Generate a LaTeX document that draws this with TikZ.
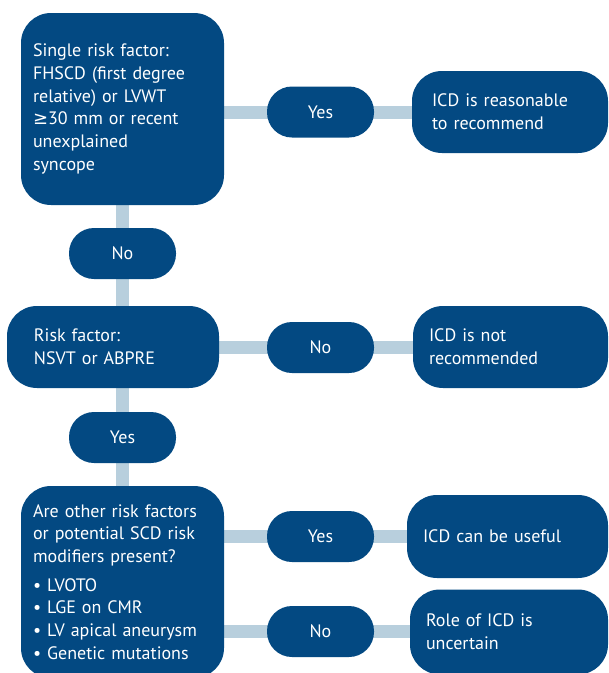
\documentclass[tikz,border=0pt]{standalone}
\usepackage{fontspec}
\setmainfont{PT Sans}
\newfontfamily\symfnt{DejaVu Sans}
\usetikzlibrary{backgrounds}
\definecolor{boxblue}{RGB}{3,73,130}
\definecolor{linkblue}{RGB}{184,207,221}

\begin{document}
\begin{tikzpicture}[x=1pt,y=-1pt,
    box/.style={fill=boxblue,text=white,rounded corners=30pt,align=left,font=\fontsize{18}{22.7}\selectfont},
    pill/.style={fill=boxblue,text=white,rounded corners=25pt,minimum width=107pt,minimum height=51pt,font=\fontsize{18}{22.7}\selectfont},
    link/.style={linkblue,line width=13pt}]
    \useasboundingbox (0,0) rectangle (609,673);

    % questions on the left
    \node[box,inner xsep=12pt,text width=179pt,minimum height=192pt] (q1) at (122.5,109)
        {Single risk factor:\\FHSCD (first degree\\relative) or LVWT\\{\symfnt ≥}30 mm or recent\\unexplained\\syncope};
    \node[pill] (no1) at (122.5,253.5) {No};
    \node[box,inner xsep=27pt,text width=158pt,minimum height=82pt] (q2) at (113,347)
        {Risk factor:\\NSVT or ABPRE};
    \node[pill] (yes2) at (122.5,437.5) {Yes};
    \node[box,inner xsep=12pt,text width=179pt,minimum height=192pt] (q3) at (122.5,582)
        {Are other risk factors\\or potential SCD risk\\modifiers present?\\[6pt]
         • LVOTO\\• LGE on CMR\\• LV apical aneurysm\\• Genetic mutations};

    % answers
    \node[pill] (yes1) at (320.5,112) {Yes};
    \node[pill] (no2) at (320.5,347.5) {No};
    \node[pill] (yes3) at (320.5,536.5) {Yes};
    \node[pill] (no3) at (320.5,631.5) {No};

    % recommendations on the right
    \node[box,inner xsep=20pt,text width=156pt,minimum height=82pt] (r1) at (510,112)
        {ICD is reasonable\\to recommend};
    \node[box,inner xsep=16pt,text width=163pt,minimum height=82pt] (r2) at (510.5,347)
        {ICD is not\\recommended};
    \node[box,inner xsep=16pt,text width=169pt,minimum height=83pt] (r3) at (507.5,536.5)
        {ICD can be useful};
    \node[box,inner xsep=16pt,text width=166pt,minimum height=85pt] (r4) at (509,632)
        {Role of ICD is\\uncertain};

    \begin{scope}[on background layer]
    \draw[link] (no1 |- q1) -- (no1 |- q3);
    \draw[link] (q1 |- yes1) -- (r1 |- yes1);
    \draw[link] (q2 |- no2) -- (r2 |- no2);
    \draw[link] (q3 |- yes3) -- (r3 |- yes3);
    \draw[link] (q3 |- no3) -- (r4 |- no3);
    \end{scope}
\end{tikzpicture}
\end{document}
